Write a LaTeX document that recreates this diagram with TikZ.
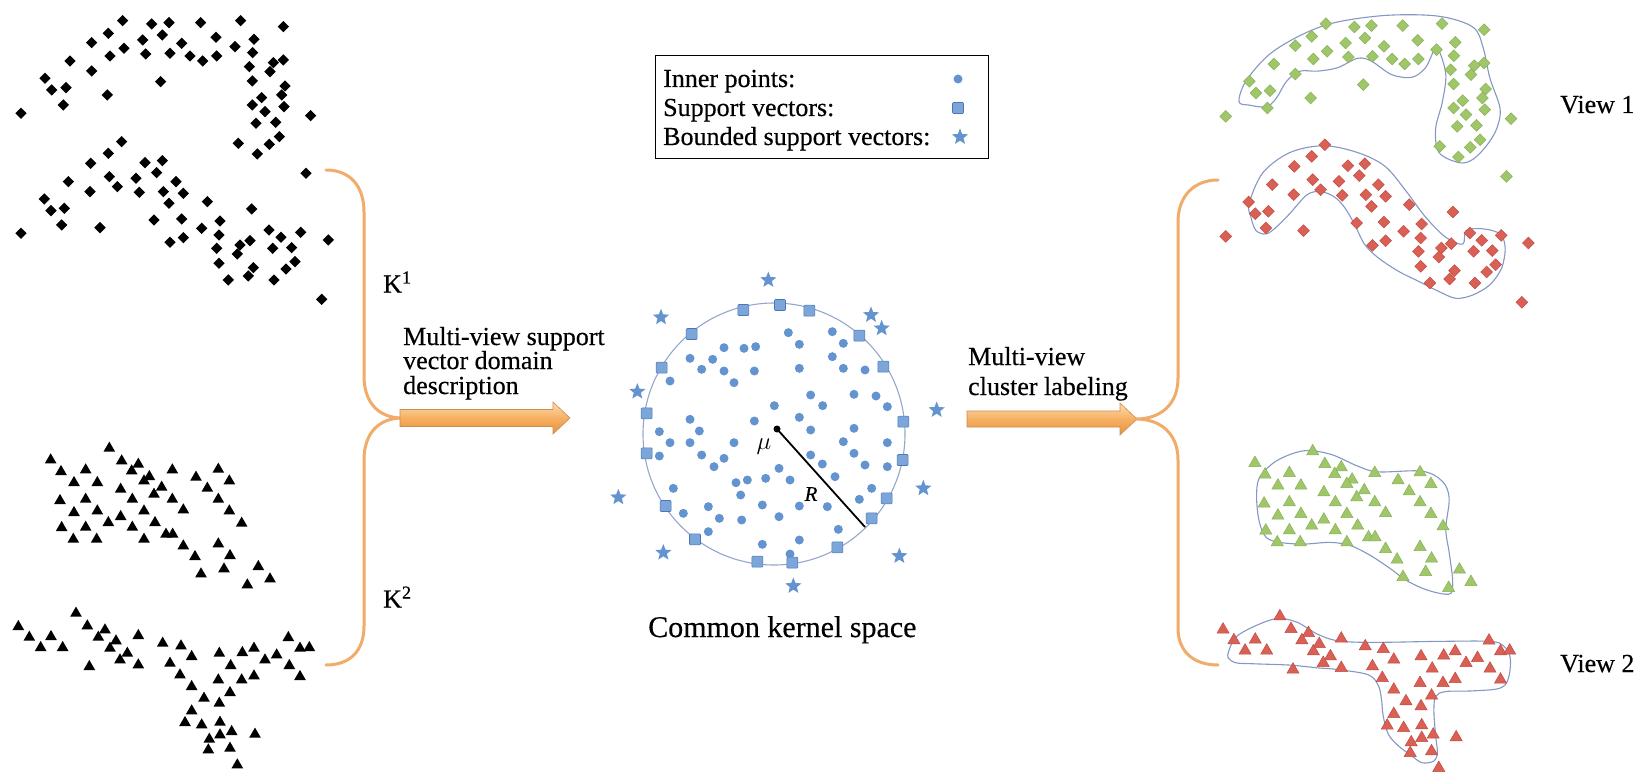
\documentclass[tikz,border=0pt]{standalone}
\usepackage{fontspec}
\setmainfont{Liberation Serif}[FakeBold=0.4]
\usetikzlibrary{shapes.geometric}

\definecolor{ptblue}{RGB}{100,148,208}
\definecolor{ptedge}{RGB}{74,120,182}
\definecolor{sqblue}{RGB}{124,166,218}
\definecolor{grn}{RGB}{160,198,106}
\definecolor{grnedge}{RGB}{136,176,86}
\definecolor{rd}{RGB}{218,96,86}
\definecolor{rdedge}{RGB}{192,76,66}
\definecolor{hull}{RGB}{132,152,196}
\definecolor{brc}{RGB}{240,172,104}
\definecolor{arrtop}{RGB}{252,220,176}
\definecolor{arrmid}{RGB}{246,176,98}
\definecolor{arrbot}{RGB}{230,146,62}
\definecolor{arredge}{RGB}{204,140,82}

% marker and line styles
\tikzset{
  dk/.style={diamond, fill=black, inner sep=0pt, minimum width=11.5pt, minimum height=11.5pt},
  tk/.style={regular polygon, regular polygon sides=3, fill=black, inner sep=0pt, minimum size=13.5pt},
  gdk/.style={diamond, fill=grn, draw=grnedge, line width=0.5pt, inner sep=0pt, minimum width=12pt, minimum height=12pt},
  rdk/.style={diamond, fill=rd, draw=rdedge, line width=0.5pt, inner sep=0pt, minimum width=12pt, minimum height=12pt},
  gtk/.style={regular polygon, regular polygon sides=3, fill=grn, draw=grnedge, line width=0.5pt, inner sep=0pt, minimum size=14pt},
  rtk/.style={regular polygon, regular polygon sides=3, fill=rd, draw=rdedge, line width=0.5pt, inner sep=0pt, minimum size=14pt},
  ip/.style={circle, fill=ptblue, inner sep=0pt, minimum size=9pt},
  sv/.style={rectangle, fill=sqblue, draw=ptedge, line width=0.6pt, inner sep=0pt, minimum size=11pt, rounded corners=1pt},
  bsv/.style={star, star points=5, star point ratio=2.3, fill=ptblue, inner sep=0pt, minimum size=17pt},
  hullline/.style={draw=hull, line width=1.1pt},
  bracket/.style={draw=brc, line width=3pt, line cap=round},
  blockarrow/.style={top color=arrtop, bottom color=arrbot, middle color=arrmid, draw=arredge, line width=0.6pt},
  txt/.style={inner sep=0pt, font=\fontsize{26pt}{30pt}\selectfont},
}

% diamond data set: upper arc and lower arc
\def\diamU{368/62, 455/72, 507/68, 602/68, 722/62, 850/80, 325/100, 487/105, 428/120, 648/112, 762/118, 275/128, 372/145, 545/130, 705/140, 330/168, 437/162, 510/160, 570/168, 608/183, 650/168, 758/158, 210/183, 820/188, 850/180, 275/213, 748/200, 810/215, 135/235, 482/245, 757/243, 155/270, 198/263, 855/258, 322/285, 845/285, 190/315, 785/293, 757/315, 852/320, 63/340, 795/335, 932/347, 768/370, 827/367, 715/430, 808/433, 838/410, 772/462, 918/520}
\def\diamL{365/425, 325/460, 487/482, 272/490, 435/488, 470/518, 205/545, 328/530, 408/535, 528/545, 352/560, 270/575, 418/577, 490/575, 550/580, 133/597, 193/625, 153/632, 507/610, 622/605, 755/627, 462/660, 545/657, 660/663, 185/675, 300/683, 605/685, 807/690, 902/697, 657/705, 843/712, 63/700, 985/720, 510/727, 550/713, 720/735, 750/722, 818/745, 875/743, 650/745, 712/762, 657/790, 885/785, 760/803, 858/807, 745/828, 685/840, 822/840, 965/898}
% triangle data set: upper band and lower T-shape
\def\triU{328/145, 152/180, 365/183, 415/193, 395/213, 183/215, 257/210, 517/210, 588/232, 655/208, 448/230, 432/243, 222/248, 292/248, 688/243, 485/262, 462/283, 362/268, 622/265, 180/302, 257/298, 397/298, 517/298, 655/298, 550/330, 222/338, 292/333, 432/333, 688/333, 325/368, 362/350, 465/368, 725/370, 185/383, 257/382, 397/382, 498/403, 518/403, 220/418, 290/418, 432/418, 550/438, 655/432, 585/470, 690/467, 672/507, 775/500, 603/522, 810/537, 742/555}
\def\triL{228/640, 55/680, 262/678, 315/690, 153/710, 295/712, 415/707, 88/712, 348/723, 488/730, 543/738, 122/743, 188/743, 330/745, 382/760, 360/780, 268/800, 415/795, 575/770, 658/760, 727/758, 762/745, 865/713, 900/745, 928/743, 692/797, 795/780, 830/765, 510/790, 868/797, 900/830, 540/825, 655/840, 725/840, 762/828, 575/860, 690/878, 612/895, 658/910, 575/933, 555/968, 605/975, 660/967, 628/1018, 660/1005, 695/995, 765/1003, 625/1050, 690/1045, 712/1095}
% kernel space: inner points, support vectors, bounded support vectors
\def\inner{625/218, 757/215, 658/253, 790/250, 432/263, 492/265, 527/260, 330/295, 398/298, 757/290, 365/328, 432/333, 523/333, 658/325, 790/325, 855/330, 270/363, 462/368, 692/405, 822/403, 888/408, 583/437, 728/437, 922/440, 330/478, 523/483, 658/472, 238/515, 358/513, 692/510, 822/505, 270/548, 330/548, 462/548, 790/545, 922/548, 238/588, 365/585, 432/595, 402/620, 692/585, 727/612, 822/580, 855/615, 922/620, 597/625, 765/650, 468/668, 502/660, 557/655, 630/660, 280/685, 482/705, 875/685, 838/718, 385/740, 310/760, 418/775, 485/780, 547/735, 597/770, 658/738, 742/740, 775/808, 385/815, 547/853, 658/840, 630/882}
\def\support{600/135, 490/150, 688/152, 335/222, 838/227, 245/323, 910/320, 200/460, 970/485, 200/580, 968/600, 257/738, 920/715, 875/775, 345/838, 772/862, 532/905, 637/908}
\def\bounded{565/60, 243/172, 873/165, 905/205, 172/395, 1070/450, 115/712, 1030/685, 250/878, 958/888, 640/978}

\begin{document}
\begin{tikzpicture}[x=1pt, y=-1pt]
\useasboundingbox (0,0) rectangle (1640,773);
\fill[white] (0,0) rectangle (1640,773);

% ---------- raw data of the two views ----------
\begin{scope}[scale=0.33333]
  \foreach \x/\y [count=\i] in \diamU {\node[dk] (ldu\i) at (\x,\y) {};}
  \foreach \x/\y [count=\i] in \diamL {\node[dk] (ldl\i) at (\x,\y) {};}
\end{scope}
\begin{scope}[shift={(0,400)}, scale=0.33333]
  \foreach \x/\y [count=\i] in \triU {\node[tk] (ltu\i) at (\x,\y) {};}
  \foreach \x/\y [count=\i] in \triL {\node[tk] (ltl\i) at (\x,\y) {};}
\end{scope}

% ---------- left bracket ----------
\coordinate (lb1) at (326,170);
\coordinate (lbtip) at (402,418);
\coordinate (lb2) at (326,665);
\draw[bracket] (lb1) .. controls (350,170) and (364,186) .. (364,212)
  -- (364,376) .. controls (364,404) and (380,418) .. (lbtip)
  .. controls (380,418) and (364,432) .. (364,460)
  -- (364,626) .. controls (364,651) and (350,665) .. (lb2);

\node[txt, anchor=west] (k1) at (383,282) {K\textsuperscript{1}};
\node[txt, anchor=west] (k2) at (383,597) {K\textsuperscript{2}};

% ---------- first block arrow ----------
\node[txt, anchor=base west] (t1a) at (403,345) {Multi-view support};
\node[txt, anchor=base west] (t1b) at (403,369) {vector domain};
\node[txt, anchor=base west] (t1c) at (403,394) {description};
\coordinate (a1s) at (400,418);
\coordinate (a1t) at (570,418);
\shade[blockarrow] (a1s) ++(0,-8.5) -- ++(153,0) -- ++(0,-7.5) -- (a1t)
  -- ++(-17,16) -- ++(0,-7.5) -- ++(-153,0) -- cycle;

% ---------- legend ----------
\draw[line width=0.8pt] (655,55) rectangle (988,158);
\node[txt, anchor=base west] (lg1) at (663,87) {Inner points:};
\node[txt, anchor=base west] (lg2) at (663,116) {Support vectors:};
\node[txt, anchor=base west] (lg3) at (663,145) {Bounded support vectors:};
\node[ip] (lgm1) at (958,79) {};
\node[sv] (lgm2) at (958,108) {};
\node[bsv] (lgm3) at (960,137) {};

% ---------- common kernel space ----------
\draw[draw=hull!85!white, line width=1.1pt] (774,434) circle [radius=131pt];
\begin{scope}[shift={(580,260)}, scale=0.33333]
  \foreach \x/\y [count=\i] in \inner {\node[ip] (in\i) at (\x,\y) {};}
  \foreach \x/\y [count=\i] in \support {\node[sv] (sv\i) at (\x,\y) {};}
  \foreach \x/\y [count=\i] in \bounded {\node[bsv] (bs\i) at (\x,\y) {};}
\end{scope}
\node[circle, fill=black, inner sep=0pt, minimum size=7pt] (mu) at (777,429) {};
\coordinate (rim) at (865,527);
\draw[line width=1.8pt] (mu.center) -- (rim);
\node[inner sep=0pt, font=\fontsize{30pt}{30pt}\selectfont] (mulab) at (764,447) {$\mu$};
\node[inner sep=0pt, font=\fontsize{21pt}{21pt}\selectfont] (rlab) at (811,494) {\textit{R}};
\node[inner sep=0pt, anchor=base west, font=\fontsize{30pt}{34pt}\selectfont] (cks) at (648,637) {Common kernel space};

% ---------- second block arrow ----------
\node[txt, anchor=base west] (t2a) at (968,365) {Multi-view};
\node[txt, anchor=base west] (t2b) at (968,395) {cluster labeling};
\coordinate (a2s) at (967,419);
\coordinate (a2t) at (1137,419);
\shade[blockarrow] (a2s) ++(0,-8) -- ++(153,0) -- ++(0,-8) -- (a2t)
  -- ++(-17,16) -- ++(0,-8) -- ++(-153,0) -- cycle;

% ---------- right bracket ----------
\coordinate (rb1) at (1218,180);
\coordinate (rbtip) at (1136,419);
\coordinate (rb2) at (1218,665);
\draw[bracket] (rb1) .. controls (1194,180) and (1178,196) .. (1178,222)
  -- (1178,378) .. controls (1178,405) and (1160,419) .. (rbtip)
  .. controls (1160,419) and (1178,433) .. (1178,460)
  -- (1178,628) .. controls (1178,652) and (1194,665) .. (rb2);

% ---------- clustered views ----------
\begin{scope}[shift={(1100,0)}, scale=0.339]
  \draw[hullline] plot[smooth cycle, tension=0.55] coordinates {(410,300) (430,240) (500,160) (600,100) (700,65) (850,45) (1000,48) (1100,80) (1130,140) (1150,230) (1180,320) (1170,380) (1140,430) (1100,470) (1060,480) (1000,450) (990,380) (1010,300) (1020,220) (1000,150) (985,150) (960,200) (920,228) (860,220) (800,180) (760,172) (700,200) (640,210) (590,210) (550,240) (520,290) (490,315) (440,310)};
  \draw[hullline] plot[smooth cycle, tension=0.55] coordinates {(440,600) (480,510) (560,450) (660,430) (760,450) (840,490) (900,560) (960,640) (1020,700) (1070,720) (1080,680) (1130,675) (1180,690) (1195,730) (1185,790) (1150,840) (1100,870) (1050,880) (1000,860) (940,830) (880,800) (820,760) (780,720) (750,660) (720,610) (690,580) (650,565) (610,575) (560,630) (520,670) (490,690) (460,680) (445,640)};
\end{scope}
\begin{scope}[shift={(1100,400)}, scale=0.339]
  \draw[hullline] plot[smooth cycle, tension=0.55] coordinates {(470,230) (520,180) (600,150) (680,160) (760,195) (820,212) (950,210) (1010,240) (1030,290) (1020,380) (1030,450) (1040,530) (1035,570) (1000,570) (950,555) (900,530) (860,500) (800,460) (740,430) (680,420) (600,425) (530,420) (490,405) (470,360) (462,290)};
  \draw[hullline] plot[smooth cycle, tension=0.55] coordinates {(380,740) (400,700) (450,670) (520,645) (580,655) (640,690) (700,710) (800,715) (1000,712) (1150,712) (1190,725) (1210,760) (1205,820) (1180,850) (1100,858) (1020,860) (990,875) (985,920) (990,990) (995,1040) (985,1065) (950,1070) (920,1050) (880,1020) (850,985) (835,930) (830,880) (820,840) (790,810) (700,795) (640,790) (560,782) (450,778) (400,775) (378,760)};
\end{scope}
\begin{scope}[shift={(1205,3)}, xscale=0.32833, yscale=0.33333]
  \foreach \x/\y [count=\i] in \diamU {\node[gdk] (rdu\i) at (\x,\y) {};}
  \foreach \x/\y [count=\i] in \diamL {\node[rdk] (rdl\i) at (\x,\y) {};}
\end{scope}
\begin{scope}[shift={(1205,403)}, xscale=0.32833, yscale=0.33333]
  \foreach \x/\y [count=\i] in \triU {\node[gtk] (rtu\i) at (\x,\y) {};}
  \foreach \x/\y [count=\i] in \triL {\node[rtk] (rtl\i) at (\x,\y) {};}
\end{scope}

\node[txt, anchor=base west] (v1) at (1560,113) {View 1};
\node[txt, anchor=base west] (v2) at (1560,672) {View 2};
\end{tikzpicture}
\end{document}
